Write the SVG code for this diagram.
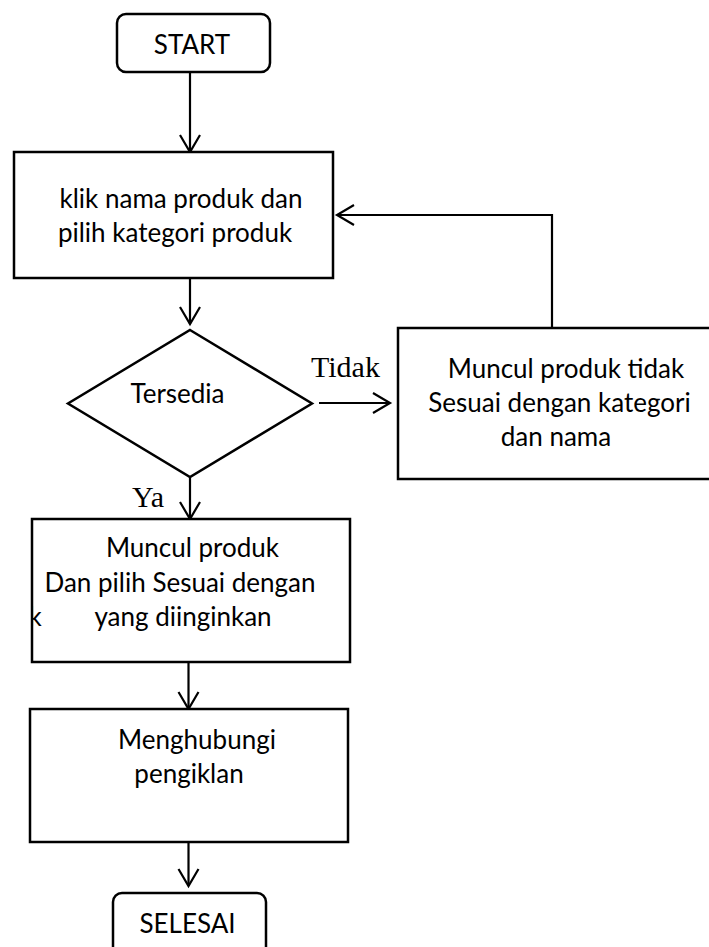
<svg xmlns="http://www.w3.org/2000/svg" width="709" height="947" viewBox="0 0 709 947">
<style>
.box{fill:#fff;stroke:#000;stroke-width:2.5}
.t{font-family:Lato,"Liberation Sans",sans-serif;font-size:26px;fill:#000;text-anchor:middle}
.tl{font-family:"Liberation Serif","Times New Roman",serif;font-size:30px;fill:#000}
.c{fill:none;stroke:#000;stroke-width:2.2}
</style>
<defs>
<marker id="ah" markerUnits="userSpaceOnUse" markerWidth="24" markerHeight="26" refX="18" refY="11" orient="auto" viewBox="0 0 24 26">
<path d="M1,1 L18,11 L1,21" fill="none" stroke="#000" stroke-width="2.2"/>
</marker>
<clipPath id="kc"><rect x="33" y="600" width="20" height="40"/></clipPath>
</defs>
<rect width="709" height="947" fill="#fff"/>
<g id="connectors">
<line class="c" x1="190" y1="72" x2="190" y2="152" marker-end="url(#ah)"/>
<line class="c" x1="190" y1="278" x2="190" y2="324" marker-end="url(#ah)"/>
<line class="c" x1="319" y1="403" x2="390" y2="403" marker-end="url(#ah)"/>
<polyline class="c" points="552,328 552,215 337,215" marker-end="url(#ah)"/>
<line class="c" x1="190" y1="477" x2="190" y2="519" marker-end="url(#ah)"/>
<line class="c" x1="188.5" y1="662" x2="188.5" y2="709" marker-end="url(#ah)"/>
<line class="c" x1="188.5" y1="842" x2="188.5" y2="886" marker-end="url(#ah)"/>
<text class="tl" x="311" y="377">Tidak</text>
<text class="tl" x="132" y="507">Ya</text>
</g>
<g id="start">
<rect class="box" x="117" y="14" width="153" height="58" rx="9"/>
<text class="t" x="192" y="54">START</text>
</g>
<g id="klik">
<rect class="box" x="14" y="152" width="319" height="126"/>
<text class="t" x="181" y="208">klik nama produk dan</text>
<text class="t" x="175" y="242">pilih kategori produk</text>
</g>
<g id="tersedia">
<polygon class="box" points="190,330 312,403.5 190,477 68,403.5"/>
<text class="t" x="177.5" y="403">Tersedia</text>
</g>
<g id="tidak-sesuai">
<rect class="box" x="398" y="328" width="330" height="151"/>
<text class="t" x="566" y="378">Muncul produk tidak</text>
<text class="t" x="559.5" y="412">Sesuai dengan kategori</text>
<text class="t" x="556" y="446">dan nama</text>
</g>
<g id="muncul">
<rect class="box" x="32" y="519" width="318" height="143"/>
<text class="t" x="192.5" y="557">Muncul produk</text>
<text class="t" x="180" y="592">Dan pilih Sesuai dengan</text>
<text class="t" x="183" y="626">yang diinginkan</text>
<text class="t" x="35" y="626" clip-path="url(#kc)">k</text>
</g>
<g id="menghubungi">
<rect class="box" x="30" y="709" width="318" height="133"/>
<text class="t" x="197" y="749">Menghubungi</text>
<text class="t" x="189" y="783">pengiklan</text>
</g>
<g id="selesai">
<rect class="box" x="113" y="893" width="153" height="70" rx="9"/>
<text class="t" x="187.5" y="933">SELESAI</text>
</g>
</svg>
